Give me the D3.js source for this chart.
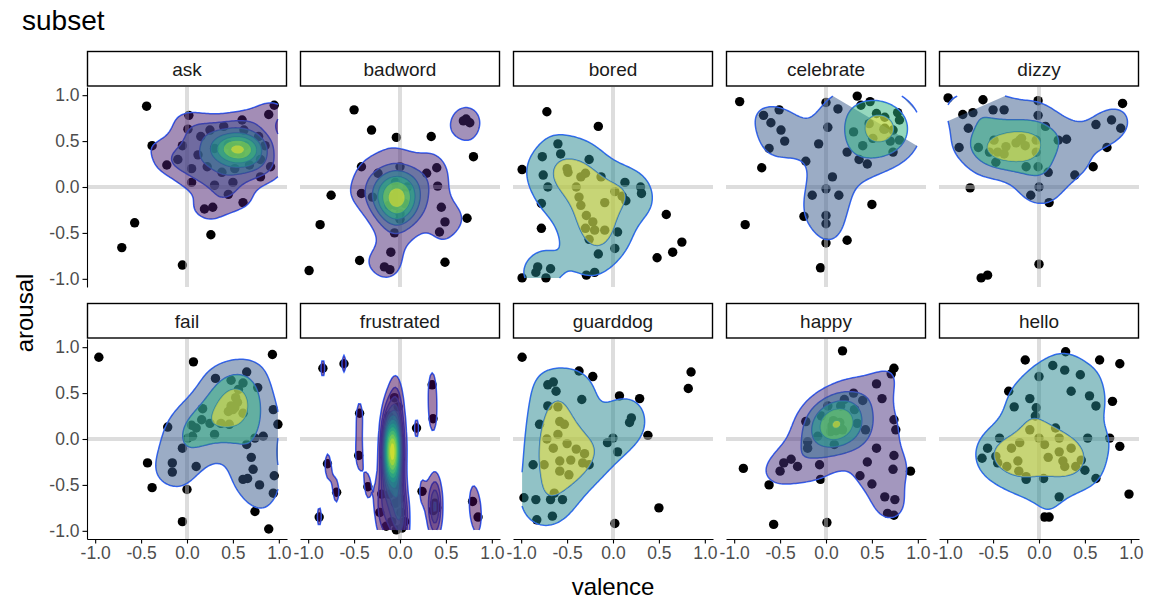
<!DOCTYPE html>
<html lang="en">
<head>
<meta charset="utf-8">
<title>subset</title>
<script src="https://d3js.org/d3.v7.min.js"></script>
<style>
    body { margin: 0; background: white; }
    svg { display: block; }
    text { font-family: "Liberation Sans", Arial, Helvetica, sans-serif; }
    .tick text { fill: #4d4d4d; font-size: 17.5px; }
    .tick line, .domain { stroke: black; stroke-width: 1.1px; }
</style>
</head>
<body>
<svg id="chart" width="1149" height="599"></svg>
<script>

// facet names, in plotting order
var subsets = ["ask", "badword", "bored", "celebrate", "dizzy",
               "fail", "frustrated", "guarddog", "happy", "hello"];

// [valence, arousal] per facet (points hidden under
// the densest bands are estimated)
var ask = [[-0.44,0.88],[-0.38,0.45],[-0.22,0.24],[0.02,0.78],[0.01,0.63],[0.60,0.73],[0.89,0.79],[0.95,0.89],
  [0.91,0.22],[0.80,0.11],[0.61,-0.17],[0.19,-0.24],[0.28,-0.22],[0.26,-0.52],[-0.57,-0.39],[-0.71,-0.66],[-0.05,-0.85],
  [0.15,0.55],[0.25,0.62],[0.40,0.66],[0.62,0.62],[0.78,0.55],[0.85,0.45],[0.80,0.30],[0.68,0.24],[0.52,0.20],
  [0.38,0.16],[0.22,0.22],[0.12,0.35],[0.30,0.42],[0.45,0.46],[0.55,0.42],[0.55,0.40],[0.52,0.43],
  [0.50,0.38],[0.63,0.45],[0.58,0.37],[0.05,0.05],[0.30,0.02],[0.50,0.05],[0.45,-0.08],
  [-0.10,0.30],[-0.05,0.45],[0.05,0.20],[0.56,0.42],[0.54,0.41],[0.57,0.40]];

var badword = [[-0.50,0.84],[-0.31,0.62],[-0.04,0.54],[0.34,0.55],[0.69,0.72],[0.76,0.70],[0.72,0.74],[0.80,0.33],
  [-0.42,0.22],[0.40,0.21],[0.29,0.15],[0.00,0.22],[0.41,0.01],[-0.42,-0.07],[-0.75,-0.09],[0.45,-0.22],[0.49,-0.38],
  [0.43,-0.49],[0.73,-0.34],[-0.87,-0.41],[-0.06,-0.50],[-0.10,-0.71],[-0.44,-0.80],[-0.17,-0.87],[-0.11,-0.90],
  [0.49,-0.82],[-0.99,-0.91],[-0.30,-0.11],[-0.24,0.15],[-0.08,-0.11],[0.00,-0.29],[-0.03,-0.12],[-0.04,-0.10],
  [-0.02,-0.14],[0.00,-0.05],[-0.05,0.05],[0.05,-0.18],[-0.12,-0.20],[0.08,0.00],[-0.03,-0.15],[-0.02,-0.08],
  [-0.05,-0.20],[0.00,-0.35],[-0.04,-0.02],[-0.06,-0.13]];

var bored = [[-0.72,0.82],[-0.16,0.66],[-0.60,0.47],[-0.57,0.36],[-0.77,0.33],[-0.99,0.19],[-0.76,0.13],[-0.71,0.00],
  [-0.26,0.30],[-0.49,0.16],[-0.35,0.11],[-0.13,0.11],[0.13,0.05],[0.02,-0.05],[0.14,-0.15],[0.30,0.00],[0.31,-0.07],
  [-0.37,-0.11],[-0.35,-0.20],[-0.09,-0.17],[-0.78,-0.18],[-0.29,-0.31],[-0.22,-0.38],[-0.20,-0.47],[-0.09,-0.47],
  [0.05,-0.49],[-0.26,-0.57],[-0.78,-0.45],[-0.16,-0.73],[0.02,-0.67],[0.58,-0.30],[0.75,-0.60],[0.65,-0.71],
  [0.48,-0.77],[-0.82,-0.87],[-0.84,-0.93],[-0.68,-0.89],[-0.73,-0.99],[-0.99,-0.99],[-0.29,-0.96],[-0.20,-0.93],
  [-0.50,0.20],[-0.40,0.00],[-0.30,0.15],[0.10,-0.10],[-0.30,-0.45]];

var celebrate = [[-0.94,0.93],[0.34,0.99],[0.00,0.92],[-0.68,0.78],[-0.51,0.84],[-0.49,0.62],[-0.62,0.42],[-0.70,0.21],
  [-0.08,0.47],[-0.22,0.28],[0.07,0.11],[0.00,-0.02],[-0.15,-0.09],[0.14,-0.09],[0.50,-0.19],[-0.24,-0.32],[0.00,-0.31],
  [0.00,-0.40],[-0.88,-0.41],[0.00,-0.61],[0.23,-0.58],[-0.06,-0.88],[0.13,0.85],[0.38,0.89],[0.48,0.93],[0.64,0.76],
  [0.78,0.81],[0.80,0.73],[0.47,0.69],[0.64,0.63],[0.73,0.62],[0.51,0.53],[0.80,0.51],[0.23,0.38],[0.36,0.30],
  [0.45,0.25],[0.73,0.38],[0.02,0.65],[0.63,0.63],[-0.60,0.70],[-0.45,0.50],[0.30,0.60],[0.55,0.80],[0.70,0.50],
  [0.40,0.45],[0.64,0.64]];

var dizzy = [[-0.99,0.97],[-0.61,0.95],[-0.01,0.94],[-0.83,0.79],[-0.72,0.81],[-0.50,0.84],[-0.38,0.84],[-0.77,0.64],
  [-0.01,0.78],[0.07,0.66],[0.91,0.91],[0.62,0.68],[0.79,0.73],[0.89,0.64],[0.21,0.51],[0.30,0.52],[-0.87,0.43],
  [-0.66,0.43],[0.74,0.43],[-0.49,0.51],[-0.36,0.44],[-0.19,0.53],[-0.03,0.51],[-0.03,0.38],[-0.54,0.38],[-0.45,0.38],
  [-0.38,0.36],[-0.47,0.27],[-0.14,0.22],[0.10,0.16],[-0.01,0.22],[0.39,0.13],[0.59,0.22],[-0.75,-0.01],[-0.09,-0.09],
  [0.11,-0.17],[0.00,0.00],[0.00,-0.84],[-0.63,-0.99],[-0.56,-0.96],[-0.21,0.51],[-0.25,0.48],[-0.15,0.45]];

var fail = [[-0.96,0.89],[0.07,0.84],[0.93,0.92],[0.31,0.66],[0.48,0.64],[0.65,0.73],[0.61,0.61],[0.56,0.54],[0.53,0.45],
  [0.77,0.56],[0.17,0.33],[0.16,0.21],[0.25,0.17],[0.10,0.12],[0.06,0.03],[0.37,0.17],[0.46,0.16],[0.52,0.34],[0.61,0.28],
  [0.94,0.32],[0.99,0.16],[-0.21,0.13],[0.01,0.01],[0.65,-0.06],[0.74,0.01],[0.83,0.03],[-0.43,-0.26],[-0.16,-0.26],
  [-0.16,-0.36],[0.10,-0.30],[-0.38,-0.53],[0.00,-0.55],[0.72,-0.33],[0.66,-0.43],[0.61,-0.44],[0.79,-0.50],[0.95,-0.40],
  [0.94,-0.59],[0.74,-0.79],[-0.05,-0.90],[0.89,-0.98],[0.52,0.36],[0.55,0.40],[0.70,-0.20],[0.05,0.15],[-0.05,-0.10],
  [0.30,0.05],[0.45,0.30],[0.50,0.32],[0.48,0.36]];

var frustrated = [[-0.84,0.77],[-0.61,0.82],[0.35,0.59],[0.36,0.22],[-0.44,0.28],[0.18,0.12],[-0.45,-0.18],[-0.79,-0.27],
  [-0.35,-0.52],[-0.69,-0.58],[0.24,-0.57],[-0.88,-0.85],[0.79,-0.68],[0.85,-0.85],[-0.04,-0.99],
  [-0.06,0.45],[-0.02,0.35],[-0.12,0.25],[-0.04,0.15],[-0.14,0.08],[-0.01,0.02],[-0.15,-0.02],[-0.05,-0.06],[-0.10,-0.10],
  [-0.03,-0.12],[-0.13,-0.15],[-0.07,-0.18],[-0.16,-0.20],[0.00,-0.22],[-0.11,-0.26],[-0.04,-0.30],[-0.14,-0.35],
  [-0.08,-0.42],[-0.02,-0.50],[-0.12,-0.60],[-0.05,-0.70],[0.01,-0.80],[-0.09,-0.90],[0.02,-0.97],[-0.09,-0.13],
  [-0.06,-0.08],[-0.12,-0.04],[-0.08,-0.16],[-0.07,-0.11],[0.38,-0.70],[0.40,-0.75],[0.36,-0.78],[0.38,-0.72],
  [-0.20,-0.60],[-0.22,-0.80],[0.00,-0.65],[-0.15,-0.95],[0.05,-0.90]];

var guarddog = [[-0.99,0.89],[0.85,0.73],[0.82,0.55],[-0.37,0.74],[-0.22,0.68],[-0.71,0.59],[-0.65,0.62],[-0.62,0.52],
  [-0.34,0.43],[0.07,0.47],[0.29,0.44],[-0.71,0.36],[-0.58,0.19],[-0.53,0.16],[0.20,0.23],[0.18,0.18],[-0.80,0.16],
  [0.38,0.04],[-0.72,0.00],[-0.06,-0.04],[0.00,0.01],[0.05,-0.14],[-0.40,-0.11],[-0.31,-0.16],[-0.58,-0.24],[-0.46,-0.23],
  [-0.33,-0.26],[-0.26,-0.28],[-0.87,-0.28],[-0.75,-0.28],[-0.58,-0.35],[-0.48,-0.39],[-0.64,-0.59],[-0.68,-0.66],
  [-0.55,-0.66],[-0.97,-0.64],[-0.84,-0.66],[-0.83,-0.88],[-0.66,-0.84],[0.50,-0.75],[0.02,-0.92],[-0.60,0.05],
  [-0.50,-0.05],[-0.65,-0.10],[-0.60,0.35]];

var happy = [[0.18,0.96],[0.74,0.77],[0.71,0.71],[0.20,0.43],[0.40,0.42],[0.61,0.44],[-0.22,0.19],[0.74,0.21],[0.76,0.10],
  [0.43,0.10],[-0.20,-0.10],[-0.46,-0.26],[-0.31,-0.30],[-0.07,-0.28],[-0.90,-0.32],[0.74,-0.18],[0.73,-0.33],[0.92,-0.35],
  [-0.06,-0.44],[0.37,-0.40],[0.50,-0.49],[-0.62,-0.50],[0.64,-0.63],[0.75,-0.66],[0.67,-0.81],[0.74,-0.83],[-0.57,-0.93],
  [0.01,-0.91],[0.02,0.36],[0.16,0.36],[0.31,0.32],[0.34,0.17],[-0.09,0.03],[0.09,-0.06],[-0.20,-0.03],[-0.05,0.25],
  [0.13,0.16],[0.10,0.12],[0.15,0.18],[0.08,0.20],[0.18,0.10],[0.05,0.08],[0.12,0.14],[0.10,0.18],[0.16,0.12],
  [0.06,0.14],[0.11,0.09],[-0.38,-0.22],[-0.50,-0.35],[0.45,-0.25],[0.55,-0.10],[0.30,0.50],[0.55,0.60]];

var hello = [[-0.15,0.86],[0.29,0.95],[0.66,0.86],[0.88,0.82],[0.28,0.75],[0.00,0.68],[-0.33,0.52],[0.55,0.47],[0.62,0.36],
  [0.80,0.41],[-0.27,0.35],[-0.10,0.44],[-0.03,0.34],[-0.04,0.25],[0.18,0.12],[0.22,0.01],[-0.43,0.01],[-0.21,-0.04],
  [0.00,0.01],[0.06,-0.06],[0.22,-0.14],[0.26,-0.24],[0.28,-0.30],[0.53,0.01],[0.77,0.01],[0.88,-0.08],[-0.56,-0.10],
  [-0.62,-0.21],[-0.47,-0.19],[-0.45,-0.26],[-0.23,-0.24],[0.46,-0.23],[0.50,-0.34],[-0.22,-0.35],[-0.14,-0.41],
  [-0.14,-0.44],[0.05,-0.43],[0.62,-0.43],[0.22,-0.63],[0.98,-0.60],[0.06,-0.85],[0.11,-0.85],[-0.30,-0.10],[0.10,-0.20],
  [0.35,-0.10],[-0.10,0.10],[0.40,-0.30],[-0.35,-0.30],[0.15,0.80],[0.45,0.70],[0.35,0.52]];

var facetData = [ask, badword, bored, celebrate, dizzy, fail, frustrated, guarddog, happy, hello];

var tickValues = [-1, -0.5, 0, 0.5, 1];
var binWidth = 0.25;  // contour spacing in density units
var gridN = 100;      // kde2d grid

// layout
var marginLeft = 87, marginTop = 51, panelW = 200, panelH = 200, stripH = 36, colGap = 13, rowGap = 16;

var svg = d3.select("#chart");

// shared scales (ggplot default 5% expansion)
var allPts = d3.merge(facetData);
var xLim = d3.extent(allPts, d => d[0]);
var yLim = d3.extent(allPts, d => d[1]);
var xPad = (xLim[1] - xLim[0]) * 0.05, yPad = (yLim[1] - yLim[0]) * 0.05;
var x = d3.scaleLinear().domain([xLim[0] - xPad, xLim[1] + xPad]).range([0, panelW]);
var y = d3.scaleLinear().domain([yLim[0] - yPad, yLim[1] + yPad]).range([panelH, 0]);

// MASS::bandwidth.nrd
function bandwidthNrd(v) {
    var s = v.slice().sort(d3.ascending);
    var iqr = (d3.quantileSorted(s, 0.75) - d3.quantileSorted(s, 0.25)) / 1.34;
    var sd = d3.deviation(v);
    var m = iqr > 0 ? Math.min(sd, iqr) : sd;
    return 4 * 1.06 * m * Math.pow(v.length, -0.2);
}

function dnorm(u) { return Math.exp(-0.5 * u * u) / Math.sqrt(2 * Math.PI); }

// MASS::kde2d on the scale range
function kde2d(pts) {
    var xs = pts.map(d => d[0]), ys = pts.map(d => d[1]);
    var hx = bandwidthNrd(xs) / 4, hy = bandwidthNrd(ys) / 4;
    var gx = d3.range(gridN).map(i => xLim[0] + i * (xLim[1] - xLim[0]) / (gridN - 1));
    var gy = d3.range(gridN).map(j => yLim[0] + j * (yLim[1] - yLim[0]) / (gridN - 1));
    var ax = gx.map(g => xs.map(v => dnorm((g - v) / hx)));
    var ay = gy.map(g => ys.map(v => dnorm((g - v) / hy)));
    var vals = new Float64Array(gridN * gridN);
    var norm = pts.length * hx * hy;
    for (var j = 0; j < gridN; j++) {
        for (var i = 0; i < gridN; i++) {
            var s = 0;
            for (var k = 0; k < pts.length; k++) s += ax[i][k] * ay[j][k];
            vals[j * gridN + i] = s / norm;
        }
    }
    return vals;
}

// contourLines-style pieces: a ring that touches the grid edge is cut there
// and left open (the polygon is then closed with a straight chord)
function ringPieces(ring) {
    var pts = ring.slice(0, -1);
    var onEdge = pts.map(p => p[0] <= 0 || p[0] >= gridN || p[1] <= 0 || p[1] >= gridN);
    var start = onEdge.indexOf(true);
    if (start < 0) return [{ pts: pts, closed: true }];
    var pieces = [], cur = [];
    for (var k = 1; k <= pts.length; k++) {
        var i = (start + k) % pts.length;
        if (onEdge[i]) {
            if (cur.length > 1) pieces.push({ pts: cur, closed: false });
            cur = [];
        } else cur.push(pts[i]);
    }
    return pieces;
}

var stepX = (xLim[1] - xLim[0]) / (gridN - 1), stepY = (yLim[1] - yLim[0]) / (gridN - 1);
function toPx(c) {
    return [x(xLim[0] + (c[0] - 0.5) * stepX), y(yLim[0] + (c[1] - 0.5) * stepY)];
}

// compute all contours first so the fill scale is shared
var facets = facetData.map(function(pts, f) {
    var vals = kde2d(pts);
    var zMax = d3.max(vals);
    var levels = d3.range(binWidth, zMax, binWidth);
    var sets = d3.contours().size([gridN, gridN]).thresholds(levels)(vals);
    var pieces = [];
    sets.forEach(function(mp) {
        mp.coordinates.forEach(function(poly) {
            poly.forEach(function(ring) {
                ringPieces(ring).forEach(function(pc) {
                    pieces.push({ level: mp.value, pts: pc.pts.map(toPx), closed: pc.closed });
                });
            });
        });
    });
    var maxLevel = d3.max(pieces, d => d.level) || 1;
    pieces.forEach(d => d.nlevel = d.level / maxLevel);
    return { name: subsets[f], pts: pts, pieces: pieces, zMax: zMax };
});

var minN = d3.min(facets, f => d3.min(f.pieces, d => d.nlevel));
var fill = d3.scaleSequential(d3.interpolateViridis).domain([minN, 1]);
var line = d3.line();

facets.forEach(function(f, i) {
    var col = i % 5, row = Math.floor(i / 5);
    var px = marginLeft + col * (panelW + colGap);
    var py = marginTop + stripH + row * (stripH + panelH + rowGap);

    // strip
    svg.append("rect")
        .attr("x", px + 0.5).attr("y", py - stripH + 0.5)
        .attr("width", panelW - 1).attr("height", stripH - 1.5)
        .attr("fill", "white").attr("stroke", "black").attr("stroke-width", 1.4);
    svg.append("text")
        .attr("x", px + panelW / 2).attr("y", py - stripH / 2)
        .attr("text-anchor", "middle").attr("dominant-baseline", "central")
        .attr("fill", "#1a1a1a").style("font-size", "19px")
        .text(f.name);

    var g = svg.append("g").attr("transform", "translate(" + px + "," + py + ")");
    g.append("clipPath").attr("id", "clip" + i)
        .append("rect").attr("width", panelW).attr("height", panelH);
    var body = g.append("g").attr("clip-path", "url(#clip" + i + ")");

    // points
    body.selectAll("circle").data(f.pts).enter().append("circle")
        .attr("cx", d => x(d[0])).attr("cy", d => y(d[1])).attr("r", 4.7)
        .attr("fill", "black");

    // reference lines at zero
    body.append("line").attr("x1", x(0)).attr("x2", x(0)).attr("y1", 0).attr("y2", panelH)
        .attr("stroke", "#bbbbbb").attr("stroke-opacity", 0.5).attr("stroke-width", 4);
    body.append("line").attr("y1", y(0)).attr("y2", y(0)).attr("x1", 0).attr("x2", panelW)
        .attr("stroke", "#bbbbbb").attr("stroke-opacity", 0.5).attr("stroke-width", 4);

    // density lines
    body.selectAll("path.dline").data(f.pieces).enter().append("path")
        .attr("class", "dline")
        .attr("d", d => line(d.pts) + (d.closed ? "Z" : ""))
        .attr("fill", "none").attr("stroke", "#3366FF").attr("stroke-width", 1.5);

    // filled density polygons, low levels first
    var sorted = f.pieces.slice().sort((a, b) => a.level - b.level);
    body.selectAll("path.dpoly").data(sorted).enter().append("path")
        .attr("class", "dpoly")
        .attr("d", d => line(d.pts) + "Z")
        .attr("fill", d => fill(d.nlevel)).attr("fill-opacity", 0.5).attr("stroke", "none");

    // axes
    if (col === 0) {
        g.append("g")
            .call(d3.axisLeft(y).tickValues(tickValues).tickFormat(d => d.toFixed(1))
                .tickSizeInner(4.5).tickSizeOuter(0).tickPadding(3));
    }
    if (row === 1) {
        g.append("g").attr("transform", "translate(0," + panelH + ")")
            .call(d3.axisBottom(x).tickValues(tickValues).tickFormat(d => d.toFixed(1))
                .tickSizeInner(4.5).tickSizeOuter(0).tickPadding(3));
    }
});

svg.selectAll(".tick text").style("font-family", "'Liberation Sans', Arial, sans-serif");

// titles
svg.append("text").attr("x", 22).attr("y", 30)
    .style("font-size", "28px").attr("fill", "black").text("subset");
svg.append("text").attr("x", marginLeft + 2 * (panelW + colGap) + panelW / 2).attr("y", 586)
    .attr("text-anchor", "middle").attr("dominant-baseline", "central")
    .style("font-size", "24px").attr("fill", "black").text("valence");
svg.append("text")
    .attr("transform", "translate(24," + (marginTop + stripH + (2 * panelH + stripH + rowGap) / 2) + ") rotate(-90)")
    .attr("text-anchor", "middle").attr("dominant-baseline", "central")
    .style("font-size", "24px").attr("fill", "black").text("arousal");

</script>
</body>
</html>
